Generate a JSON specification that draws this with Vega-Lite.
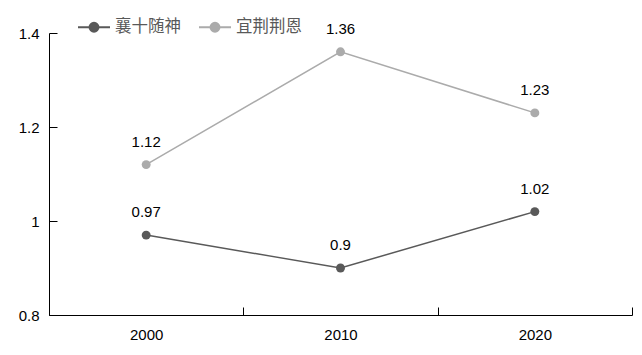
{
  "$schema": "https://vega.github.io/schema/vega-lite/v6.json",
  "width": 583,
  "height": 282,
  "autosize": {"type": "none"},
  "padding": {"left": 49, "top": 33, "right": 10, "bottom": 40},
  "background": "white",
  "data": {
    "values": [
      {"year": "2000", "series": "襄十随神", "value": 0.97},
      {"year": "2010", "series": "襄十随神", "value": 0.9},
      {"year": "2020", "series": "襄十随神", "value": 1.02},
      {"year": "2000", "series": "宜荆荆恩", "value": 1.12},
      {"year": "2010", "series": "宜荆荆恩", "value": 1.36},
      {"year": "2020", "series": "宜荆荆恩", "value": 1.23}
    ]
  },
  "config": {
    "view": {"stroke": null},
    "font": "Liberation Sans"
  },
  "encoding": {
    "x": {
      "field": "year", "type": "nominal", "sort": null,
      "scale": {"type": "band", "paddingInner": 0, "paddingOuter": 0},
      "axis": {
        "title": null, "labelAngle": 0, "tickBand": "extent", "tickSize": -8,
        "domainColor": "#000000", "tickColor": "#000000", "labelColor": "#000000",
        "labelFontSize": 15, "labelPadding": 20, "grid": false
      }
    },
    "y": {
      "field": "value", "type": "quantitative",
      "scale": {"domain": [0.8, 1.4], "nice": false, "zero": false},
      "axis": {
        "title": null, "values": [0.8, 1, 1.2, 1.4], "tickSize": -8,
        "domainColor": "#000000", "tickColor": "#000000", "labelColor": "#000000",
        "labelFontSize": 15, "labelPadding": 18, "grid": false,
        "labelExpr": "datum.value == 1 ? '1' : format(datum.value, '.1f')"
      }
    },
    "color": {
      "field": "series", "type": "nominal", "sort": ["襄十随神", "宜荆荆恩"],
      "scale": {"domain": ["襄十随神", "宜荆荆恩"], "range": ["#595959", "#ababab"]},
      "legend": {
        "title": null, "orient": "none", "direction": "horizontal",
        "legendX": 28, "legendY": -23,
        "symbolType": "M-1,0H-0.28M0.28,0H1M0.28,0A0.28,0.28,0,1,1,-0.28,0A0.28,0.28,0,1,1,0.28,0",
        "symbolStrokeWidth": 2, "symbolSize": 1024,
        "labelFont": "Noto Sans CJK SC", "labelFontSize": 16.5, "labelColor": "#595959",
        "columnPadding": 14, "labelOffset": 4,
        "encode": {"symbols": {"update": {"size": {"value": 1024}}}}
      }
    }
  },
  "layer": [
    {"mark": {"type": "line", "strokeWidth": 1.5}},
    {"mark": {"type": "point", "filled": true, "size": 80, "opacity": 1}},
    {
      "mark": {"type": "text", "dy": -23, "fontSize": 15, "color": "#000000"},
      "encoding": {
        "text": {"field": "value", "type": "quantitative"},
        "color": {"value": "#000000"}
      }
    }
  ]
}
